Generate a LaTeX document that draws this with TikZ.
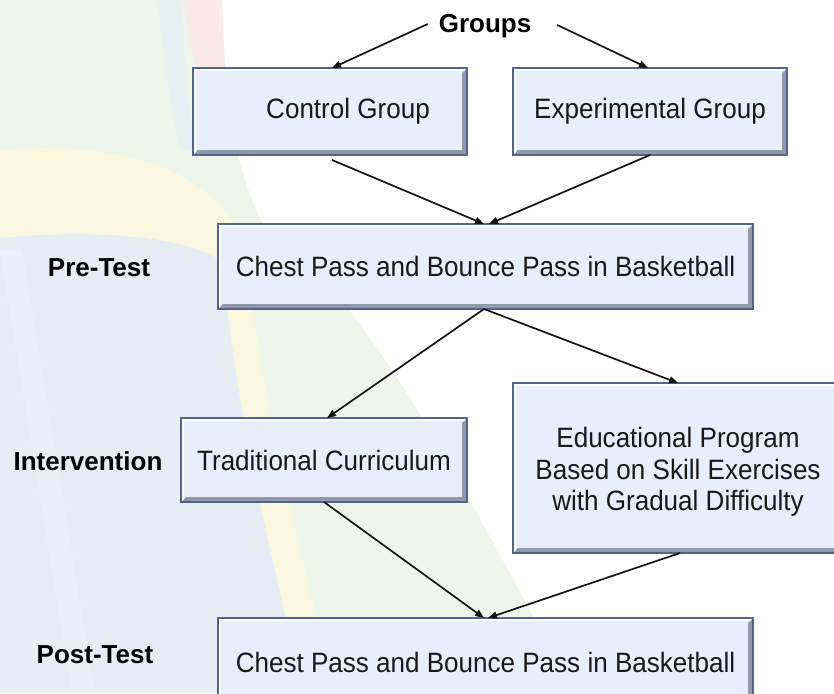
\documentclass[tikz,border=0pt]{standalone}
\usepackage{fontspec}
\setmainfont{Liberation Sans}
\newfontfamily\boxfont{Liberation Sans}[FakeStretch=0.93]
\usetikzlibrary{arrows.meta,calc}

\definecolor{boxfill}{HTML}{E7EFFC}
\definecolor{boxline}{HTML}{52658C}
\definecolor{bevdark}{HTML}{9199A9}
\definecolor{bggreen}{HTML}{EEF6EA}
\definecolor{bgblue}{HTML}{E6EDF5}
\definecolor{bgyellow}{HTML}{FAF8E1}
\definecolor{bgpink}{HTML}{FCEAEA}
\definecolor{bgcyan}{HTML}{E6F3F2}

\tikzset{
  stagebox/.style={
    draw=boxline, line width=1.7pt, fill=boxfill,
    inner sep=0pt, outer sep=0pt, align=center, text=black!90,
    font=\boxfont\fontsize{28}{31.5}\selectfont,
    path picture={
      % bevel: dark lower and right rim, light upper and left rim
      \fill[bevdark] (path picture bounding box.south west)
        -- (path picture bounding box.south east)
        -- (path picture bounding box.north east)
        -- ++(-5pt,-5pt)
        -- ($(path picture bounding box.south east)+(-5pt,5pt)$)
        -- ($(path picture bounding box.south west)+(5pt,5pt)$) -- cycle;
      \fill[white,opacity=.85] (path picture bounding box.south west)
        -- (path picture bounding box.north west)
        -- (path picture bounding box.north east)
        -- ++(-3pt,-3pt)
        -- ($(path picture bounding box.north west)+(3pt,-3pt)$)
        -- ($(path picture bounding box.south west)+(3pt,3pt)$) -- cycle;
    }},
  stagelabel/.style={inner sep=0pt, outer sep=0pt, text=black,
    font=\bfseries\fontsize{26}{30}\selectfont},
  conn/.style={draw=black!92, line width=1.7pt,
    -{Triangle[length=9pt,width=7pt]}},
}

\begin{document}
\begin{tikzpicture}[x=1pt,y=-1pt]
\path[use as bounding box] (0,0) rectangle (834,693);
\clip (0,0) rectangle (834,693);

% faint background artwork
\fill[white] (0,0) rectangle (834,693);
\fill[bggreen] (0,0) -- (222,0) .. controls (225,150) and (250,260) .. (345,305)
  .. controls (420,400) and (480,520) .. (575,693) -- (0,693) -- cycle;
\fill[bgcyan] (158,0) -- (182,0) .. controls (184,60) and (188,110) .. (195,150)
  -- (180,150) .. controls (170,100) and (162,50) .. (158,0) -- cycle;
\fill[bgpink] (183,0) -- (222,0) .. controls (224,50) and (226,90) .. (228,125)
  -- (205,115) .. controls (195,70) and (188,30) .. (183,0) -- cycle;
\fill[bgblue] (0,238) .. controls (100,228) and (195,238) .. (222,262)
  .. controls (235,400) and (268,550) .. (305,693) -- (0,693) -- cycle;
\fill[white,opacity=.2] (0,250) -- (22,250) -- (95,693) -- (72,693) -- cycle;
\fill[bgyellow] (0,150) .. controls (120,140) and (215,170) .. (242,240)
  .. controls (262,400) and (300,550) .. (335,693) -- (305,693)
  .. controls (268,550) and (235,400) .. (222,262)
  .. controls (195,238) and (100,228) .. (0,238) -- cycle;

% stages
\node[stagelabel] (groups) at (485,26) {Groups};
\node[stagebox, minimum width=274pt, minimum height=87pt] (ctrl) at (330,111.5)
  {\hspace*{36pt}Control Group};
\node[stagebox, minimum width=274pt, minimum height=87pt] (exp) at (650,111.5)
  {Experimental Group};
\node[stagebox, minimum width=535pt, minimum height=85pt] (pre) at (485.5,266.5)
  {Chest Pass and Bounce Pass in Basketball};
\node[stagebox, minimum width=286pt, minimum height=84pt] (trad) at (324,460)
  {Traditional Curriculum};
\node[stagebox, minimum width=330pt, minimum height=170pt] (edu) at (678,468)
  {\rule{0pt}{28pt}Educational Program\\Based on Skill Exercises\\with Gradual Difficulty};
\node[stagebox, minimum width=535pt, minimum height=88pt] (post) at (485.5,662)
  {Chest Pass and Bounce Pass in Basketball};

\node[stagelabel] (prelbl) at (99,268) {Pre-Test};
\node[stagelabel] (intlbl) at (88,461) {Intervention};
\node[stagelabel] (postlbl) at (95,655) {Post-Test};

% connectors
\draw[conn] ($(groups.west)+(-11,-2)$) -- ($(ctrl.north)+(2,0)$);
\draw[conn] ($(groups.east)+(26,-1)$) -- ($(exp.north)+(-2,0)$);
\draw[conn] ($(ctrl.south)+(2,5)$) -- ($(pre.north)+(-1.5,0)$);
\draw[conn] (exp.south) -- ($(pre.north)+(3.5,0)$);
\draw[conn] ($(pre.south)+(-1.5,0)$) -- ($(trad.north)+(3,0)$);
\draw[conn] ($(pre.south)+(-1.5,0)$) -- (edu.north);
\draw[conn] (trad.south) -- ($(post.north)+(-1.5,0)$);
\draw[conn] ($(edu.south)+(2,0)$) -- ($(post.north)+(2.5,0)$);
\end{tikzpicture}
\end{document}
